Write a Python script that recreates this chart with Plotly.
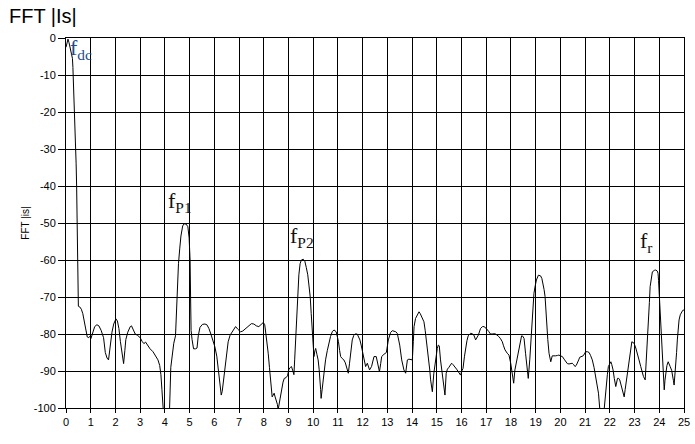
import plotly.graph_objects as go

freq = [0.0, 0.04, 0.08, 0.12, 0.17, 0.22, 0.26, 0.28, 0.31, 0.34, 0.37, 0.39, 0.41, 0.43, 0.44, 0.45, 0.46, 0.47, 0.49, 0.50,
        0.56, 0.62, 0.68, 0.74, 0.80, 0.86, 0.92, 0.97, 1.01, 1.08, 1.16, 1.25, 1.33, 1.42, 1.52, 1.59, 1.66, 1.72, 1.79, 1.86,
        1.93, 2.02, 2.08, 2.14, 2.2, 2.26, 2.33, 2.38, 2.42, 2.5, 2.6, 2.65, 2.72, 2.8, 2.9, 3.0, 3.08, 3.15, 3.22, 3.3,
        3.4, 3.52, 3.62, 3.72, 3.79, 3.84, 3.88, 3.93, 4.0, 4.1, 4.19, 4.24, 4.3, 4.36, 4.43, 4.46, 4.48, 4.51, 4.55, 4.6,
        4.65, 4.72, 4.78, 4.86, 4.93, 4.98, 5.02, 5.04, 5.06, 5.1, 5.16, 5.24, 5.3, 5.35, 5.42, 5.52, 5.62, 5.7, 5.78, 5.86,
        5.95, 6.02, 6.1, 6.16, 6.22, 6.28, 6.32, 6.38, 6.43, 6.48, 6.56, 6.64, 6.72, 6.8, 6.86, 6.95, 7.06, 7.15, 7.25, 7.4,
        7.5, 7.6, 7.7, 7.8, 7.88, 7.98, 8.04, 8.08, 8.13, 8.18, 8.23, 8.27, 8.31, 8.34, 8.38, 8.42, 8.46, 8.5, 8.55, 8.58,
        8.62, 8.66, 8.7, 8.74, 8.78, 8.83, 8.9, 8.96, 9.02, 9.08, 9.12, 9.18, 9.22, 9.25, 9.28, 9.31, 9.34, 9.38, 9.42, 9.47,
        9.52, 9.6, 9.66, 9.72, 9.78, 9.83, 9.88, 9.92, 9.96, 10.0, 10.03, 10.07, 10.1, 10.15, 10.2, 10.24, 10.27, 10.3, 10.32, 10.36,
        10.39, 10.45, 10.5, 10.57, 10.63, 10.7, 10.77, 10.84, 10.93, 10.98, 11.02, 11.07, 11.11, 11.17, 11.24, 11.3, 11.34, 11.38, 11.42, 11.47,
        11.52, 11.58, 11.64, 11.69, 11.78, 11.84, 11.89, 11.94, 11.98, 12.05, 12.12, 12.19, 12.24, 12.28, 12.36, 12.41, 12.46, 12.55, 12.6, 12.68,
        12.73, 12.77, 12.86, 12.96, 13.04, 13.13, 13.2, 13.27, 13.34, 13.4, 13.45, 13.5, 13.58, 13.67, 13.74, 13.78, 13.81, 13.87, 13.95, 14.01,
        14.05, 14.08, 14.14, 14.2, 14.28, 14.33, 14.39, 14.48, 14.53, 14.58, 14.63, 14.68, 14.72, 14.75, 14.82, 14.88, 14.95, 15.02, 15.06, 15.1,
        15.15, 15.2, 15.25, 15.33, 15.38, 15.43, 15.49, 15.55, 15.6, 15.66, 15.73, 15.8, 15.87, 15.96, 16.01, 16.06, 16.12, 16.17, 16.22, 16.27,
        16.37, 16.45, 16.5, 16.57, 16.62, 16.68, 16.77, 16.85, 16.91, 17.0, 17.11, 17.17, 17.24, 17.3, 17.38, 17.45, 17.51, 17.58, 17.65, 17.7,
        17.76, 17.85, 17.92, 17.99, 18.05, 18.11, 18.16, 18.21, 18.26, 18.35, 18.43, 18.48, 18.53, 18.59, 18.66, 18.7, 18.76, 18.8, 18.84, 18.88,
        18.93, 18.98, 19.03, 19.11, 19.2, 19.25, 19.3, 19.34, 19.38, 19.41, 19.44, 19.49, 19.54, 19.61, 19.67, 19.74, 19.81, 19.88, 19.94, 20.0,
        20.08, 20.15, 20.21, 20.28, 20.35, 20.42, 20.48, 20.54, 20.59, 20.64, 20.69, 20.74, 20.78, 20.85, 20.92, 20.97, 21.02, 21.1, 21.16, 21.22,
        21.29, 21.36, 21.43, 21.49, 21.54, 21.59, 21.65, 21.72, 21.77, 21.82, 21.86, 21.9, 21.94, 22.0, 22.04, 22.08, 22.13, 22.18, 22.24, 22.31,
        22.36, 22.4, 22.46, 22.51, 22.58, 22.62, 22.67, 22.72, 22.78, 22.84, 22.89, 22.94, 22.98, 23.05, 23.12, 23.18, 23.25, 23.3, 23.36, 23.43,
        23.48, 23.52, 23.56, 23.6, 23.63, 23.67, 23.72, 23.8, 23.86, 23.92, 23.95, 23.97, 23.99, 24.03, 24.06, 24.1, 24.13, 24.17, 24.2, 24.23,
        24.26, 24.31, 24.36, 24.4, 24.44, 24.5, 24.53, 24.57, 24.6, 24.64, 24.67, 24.7, 24.73, 24.77, 24.8, 24.85, 24.9, 24.95, 25.0]

magnitude = [-2.5, -1.0, -0.3, -1.2, -3.0, -4.0, -5.5, -8, -13, -18, -24, -29, -34, -40, -46, -52, -58, -64, -70, -72.5,
             -72.7, -73.3, -74.5, -76.5, -79, -80.8, -81, -80.6, -81.2, -79.6, -78, -77.5, -77.8, -79, -81, -85, -86.5, -87, -82.5, -79.5,
             -77.3, -75.9, -76.5, -78.5, -82, -85.5, -88, -84.5, -81.5, -79.5, -78, -77.8, -78.8, -80, -80.4, -81, -82, -82.6, -82.2, -83,
             -84, -84.8, -85.8, -87, -88.5, -91, -95, -100, -107, -109, -100, -89, -85, -82.5, -80.5, -76, -71, -65, -61, -57,
             -53.5, -50.8, -50.2, -50.3, -51, -54, -60, -70, -79, -81.5, -84, -84, -83.8, -80.5, -78.2, -77.4, -77.3, -77.5, -78.5, -80,
             -82, -83.4, -86, -89.5, -93.3, -96.5, -95.5, -92.4, -89, -86, -82.1, -80.3, -79.4, -78.3, -78, -78.7, -79.4, -79.2, -78.6, -77.6,
             -77.2, -77.3, -77.8, -78, -77.6, -76.9, -77.5, -79.4, -82, -85.2, -89, -92.4, -95.5, -97, -96.5, -96, -97, -97.8, -99, -100.5,
             -99, -97.5, -95.5, -94.2, -93, -92, -91.8, -91.3, -89.5, -89, -88.8, -90, -91, -87, -82.5, -77, -72.5, -68, -64, -61,
             -60, -59.8, -60.3, -62, -64, -67, -70, -74.5, -78.9, -83, -86.1, -84.5, -83.9, -85.5, -87, -89.5, -91.5, -95, -97.4, -95,
             -93.3, -90, -87, -84.5, -82.5, -80.7, -79.4, -78.9, -79.4, -80.5, -82, -84.5, -86.1, -86.6, -87, -87.8, -88.8, -89.8, -90.6, -87.9,
             -84.5, -81.6, -80.4, -80, -80, -80.7, -81.6, -83, -84.3, -87, -88.8, -87.9, -88.8, -89.7, -88.8, -87.5, -86.1, -86.1, -87.9, -90.2,
             -88, -86.1, -85.5, -85, -81.6, -79.6, -79.1, -79.2, -79.4, -79.8, -81.5, -83, -87, -89.7, -90.6, -88.5, -87, -86.8, -86.9, -87,
             -82, -78, -75.8, -74.8, -74, -74.5, -75.3, -76.7, -79, -81.6, -84.5, -87, -90, -92.4, -95.6, -90.6, -87, -83.9, -83, -83.2,
             -87, -90, -93.3, -96.5, -90.6, -89.5, -89, -88.3, -87.9, -88.3, -88.8, -89.5, -90.2, -91.1, -90, -89.3, -86, -83.4, -81.8, -80.5,
             -79.8, -80, -80.3, -81.6, -81, -80.3, -78.5, -78, -78, -78.5, -79.4, -80, -80, -79.9, -80, -80.3, -80.7, -81.3, -82.1, -83.2,
             -84.3, -85.2, -85.7, -87.9, -91.1, -93.3, -89.7, -88, -86.1, -82.5, -80.5, -80.6, -81.2, -85.2, -89.7, -92, -87, -82.5, -78, -73.5,
             -69, -67, -65.4, -64.1, -64.3, -65, -66.3, -68, -69.9, -73.5, -77.1, -81.5, -85.2, -87.5, -85.9, -86, -85.9, -85.8, -85.7, -85.9,
             -86.1, -86.8, -87.5, -88, -88.1, -88, -87.9, -88.3, -88.8, -88.5, -87.9, -87, -86.3, -86.1, -85.9, -85.4, -84.8, -84.8, -85, -85.8,
             -87, -89, -91.5, -94, -96, -100, -105, -104, -100, -96, -93.3, -91, -88.8, -87.8, -87.5, -88.3, -89.7, -92, -94.2, -92,
             -92, -92.4, -94, -95.6, -97, -95, -92.4, -89.5, -87, -84.5, -82.1, -82.3, -82.5, -83.8, -85.2, -87, -88.8, -90, -91.5, -92.4,
             -87, -81.5, -76.2, -71.5, -67.2, -65, -63.2, -62.8, -62.7, -63, -63.6, -65.5, -68.1, -73, -78, -83, -87, -91.5, -95.1, -92.5,
             -90.6, -88.5, -87.5, -88, -88.8, -89.8, -90.6, -92.5, -93.8, -91, -88.8, -85, -81.6, -78.5, -76.2, -74.8, -74, -73.6, -73.5]

x_ticks = list(range(0, 26))
y_ticks = list(range(-100, 1, 10))

peak_labels = ["f<sub>dc</sub>", "f<sub>P1</sub>", "f<sub>P2</sub>", "f<sub>r</sub>"]
peak_x = [0.10, 4.06, 8.98, 23.15]
peak_y = [0.0, -40.0, -49.5, -50.8]
peak_shift = [5, 0, 0, 0]
peak_colors = ["#1d4c8c", "#111111", "#111111", "#111111"]

fig = go.Figure()
fig.add_trace(go.Scatter(x=freq, y=magnitude, mode="lines",
                         line=dict(color="black", width=1), showlegend=False))

for txt, px, py, sh, col in zip(peak_labels, peak_x, peak_y, peak_shift, peak_colors):
    fig.add_annotation(x=px, y=py, xref="x", yref="y", text=txt, showarrow=False,
                       xanchor="left", yanchor="top", yshift=sh,
                       font=dict(family="Liberation Serif", size=22, color=col))

fig.update_layout(
    width=695, height=444,
    margin=dict(l=66, r=11, t=38, b=36),
    paper_bgcolor="white", plot_bgcolor="white",
    title=dict(text="FFT |Is|", x=9/695, xanchor="left", xref="container",
               y=1 - 16/444, yanchor="middle", yref="container",
               font=dict(family="Liberation Sans", size=20, color="black")),
    font=dict(family="Liberation Sans", size=11, color="black"),
)
fig.update_xaxes(range=[0, 25], tickvals=x_ticks, ticktext=[str(v) for v in x_ticks],
                 showgrid=True, gridcolor="black", gridwidth=1, automargin=False,
                 showline=True, linecolor="black", linewidth=1, mirror=True,
                 ticks="outside", ticklen=4, tickcolor="black", zeroline=False,
                 tickfont=dict(family="Liberation Sans", size=11, color="black"))
fig.update_yaxes(range=[-100, 0], tickvals=y_ticks, ticktext=[str(v) for v in y_ticks],
                 showgrid=True, gridcolor="black", gridwidth=1, automargin=False,
                 showline=True, linecolor="black", linewidth=1, mirror=True,
                 ticks="outside", ticklen=7, tickcolor="black", zeroline=False,
                 title=dict(text="FFT |is|", standoff=2,
                            font=dict(family="Liberation Sans", size=10, color="black")),
                 tickfont=dict(family="Liberation Sans", size=11, color="black"))

# remove the default 8px page margin so the 695x444 figure fills the window exactly
fig.write_html("out.html", config={"displayModeBar": False},
               post_script="document.body.style.margin='0px';")
